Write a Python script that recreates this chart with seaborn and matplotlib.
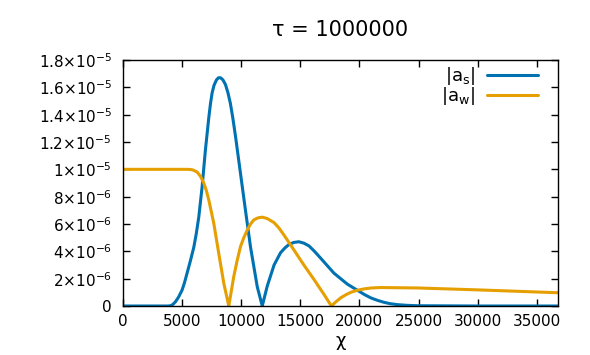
import matplotlib
matplotlib.use('Agg')
import matplotlib.pyplot as plt
import matplotlib.ticker as mticker
import pandas as pd
import seaborn as sns

# |a_s| (x in chi, y in units of 1e-6)
chi_s = [0, 2000, 3800, 4010, 4200, 4430, 4700, 5000, 5200, 5420, 5700, 5990,
         6200, 6410, 6690, 6970, 7260, 7400, 7540, 7700, 7910, 8080, 8250,
         8450, 8670, 8880, 9090, 9300, 9520, 9940, 10360, 10790, 11360, 11780,
         12200, 12780, 13330, 13700, 14040, 14450, 14880, 15300, 15730, 16200,
         16720, 17850, 18980, 19830, 20400, 20950, 21500, 22080, 22600, 23210,
         24000, 24900, 30000, 36800]
a_s = [0, 0, 0, 0.02, 0.1, 0.3, 0.65, 1.17, 1.7, 2.4, 3.3, 4.3,
       5.3, 6.5, 8.7, 11.4, 13.8, 14.8, 15.6, 16.15, 16.55, 16.7, 16.7,
       16.55, 16.2, 15.6, 14.8, 13.7, 12.4, 9.7, 7.0, 4.3, 1.4, 0,
       1.45, 3.0, 3.9, 4.25, 4.5, 4.65, 4.7, 4.6, 4.4, 4.0,
       3.5, 2.4, 1.6, 1.15, 0.85, 0.6, 0.42, 0.27, 0.17, 0.1,
       0.05, 0.02, 0, 0]

# |a_w|
chi_w = [0, 5000, 5500, 5850, 6050, 6270, 6550, 6830, 7050, 7260, 7680, 8100,
         8530, 8950, 9370, 9650, 9940, 10220, 10510, 10790, 11070, 11420,
         11780, 12200, 12780, 13200, 13610, 14040, 14460, 15300, 16150, 17000,
         17630, 18000, 18420, 18850, 19270, 19800, 20390, 21000, 21800, 24900,
         30000, 36800]
a_w = [10, 10, 10, 9.97, 9.9, 9.8, 9.5, 9.0, 8.45, 7.75, 6.05, 3.85,
       1.65, 0, 2.15, 3.3, 4.35, 5.0, 5.55, 6.0, 6.3, 6.45,
       6.5, 6.4, 6.1, 5.7, 5.2, 4.65, 4.1, 3.0, 1.95, 0.85,
       0, 0.3, 0.6, 0.82, 1.0, 1.15, 1.25, 1.32, 1.35, 1.32,
       1.18, 0.97]

labels = [r'|a$_\mathrm{s}$|', r'|a$_\mathrm{w}$|']
colors = ['#0072b2', '#e69f00']

df = pd.concat([
    pd.DataFrame({'chi': chi_s, 'a': [v * 1e-6 for v in a_s], 'series': labels[0]}),
    pd.DataFrame({'chi': chi_w, 'a': [v * 1e-6 for v in a_w], 'series': labels[1]}),
])

sns.set_style('ticks')
plt.rcParams['font.family'] = ['DejaVu Sans']
plt.rcParams['mathtext.fontset'] = 'dejavusans'
plt.rcParams['text.color'] = 'black'
plt.rcParams['axes.labelcolor'] = 'black'

fig = plt.figure(figsize=(5.9, 3.55), dpi=100)
ax = fig.add_axes([123 / 590, 1 - 306 / 355, 435 / 590, 246 / 355])

sns.lineplot(data=df, x='chi', y='a', hue='series', palette=colors,
             linewidth=2.2, ax=ax, sort=False, estimator=None)

ax.set_xlim(0, 36800)
ax.set_ylim(0, 1.8e-5)
ax.set_xticks(range(0, 36000, 5000))
ax.set_yticks([i * 2e-6 for i in range(10)])


def yfmt(v, pos):
    if abs(v) < 1e-12:
        return '0'
    exp = 0
    m = v
    while m < 1 - 1e-9:
        m *= 10
        exp -= 1
    m = round(m, 1)
    return f'{m:g}×10' + r'$^{' + str(exp) + r'}$'


ax.yaxis.set_major_formatter(mticker.FuncFormatter(yfmt))
ax.tick_params(direction='in', length=5, width=1, labelsize=11,
               top=True, right=True, colors='black')
ax.tick_params(axis='y', pad=8)
ax.tick_params(axis='x', pad=6)
for s in ax.spines.values():
    s.set_linewidth(1.0)
    s.set_color('black')

ax.set_xlabel('χ', fontsize=13, labelpad=2)
ax.set_ylabel('')
ax.set_title('τ = 1000000', fontsize=15, pad=17)

handles, _ = ax.get_legend_handles_labels()
ax.legend(handles, labels, loc='upper right', frameon=False, markerfirst=False,
          fontsize=13, handlelength=2.8, handletextpad=0.7, labelspacing=-0.1,
          borderpad=0, borderaxespad=0,
          bbox_to_anchor=(538 / 590, 1 - 65 / 355), bbox_transform=fig.transFigure)

fig.savefig('out.png', dpi=100)
